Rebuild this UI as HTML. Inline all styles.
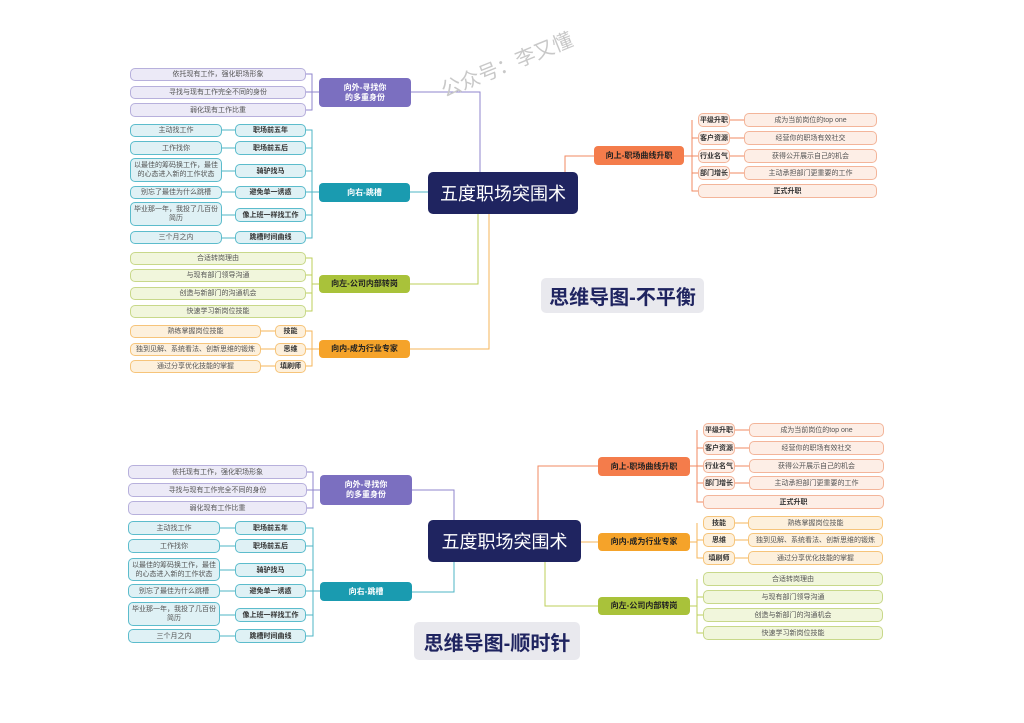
<!DOCTYPE html>
<html><head><meta charset="utf-8"><style>
body{margin:0;width:1024px;height:723px;background:#fff;position:relative;overflow:hidden;font-family:"Liberation Sans","Noto Sans CJK SC",sans-serif}
.n{position:absolute;box-sizing:border-box;display:flex;align-items:center;justify-content:center;text-align:center;border-radius:5px;font-size:7px;line-height:9px;border:1px solid;color:#555}
.p{background:#eceaf7;border-color:#b7b0dc}
.t{background:#dff1f5;border-color:#5cbccc}
.g{background:#f1f6dc;border-color:#c8d88a}
.o{background:#fdf0dc;border-color:#f6c47a}
.r{background:#fdeee6;border-color:#f3b59a}
.b{font-weight:bold;color:#333}
.B{font-weight:bold;font-size:8px;border:none;border-radius:4px;line-height:10px}
.c{position:absolute;background:#1f2460;color:#fff;font-size:18px;display:flex;align-items:center;justify-content:center;border-radius:5px}
.ti{position:absolute;background:#e9e9ee;color:#1f2460;font-weight:bold;font-size:20px;display:flex;align-items:center;justify-content:center;border-radius:5px}
svg{position:absolute;left:0;top:0}
</style></head><body>
<svg width="1024" height="723" fill="none" stroke-width="1">
<g stroke="#8f86cc"><path d="M306 74H312V110H306M306 92H319M411 92H480V172"/></g>
<g stroke="#4cb4c6"><path d="M306 130H312V238H306M306 148H312M306 171H312M306 192H319M306 215H312M222 130H235M222 148H235M222 171H235M222 192H235M222 215H235M222 238H235M410 192H428"/></g>
<g stroke="#bccf5a"><path d="M306 258H312V311H306M306 275H312M306 293H312M312 284H319M410 284H478V214"/></g>
<g stroke="#f5b45a"><path d="M306 331H312V366H306M306 349H319M261 331H275M261 349H275M261 366H275M410 349H489V214"/></g>
<g stroke="#f08a62"><path d="M565 172V156H594M684 156H692M692 120V191H698M692 138H698M692 156H698M692 173H698M730 120H744M730 138H744M730 156H744M730 173H744"/></g>
<g stroke="#8f86cc"><path d="M307 472H313V508H307M307 490H320M412 490H454V520"/></g>
<g stroke="#4cb4c6"><path d="M306 528H313V636H306M306 546H313M306 570H313M306 591H320M306 615H313M220 528H235M220 546H235M220 570H235M220 591H235M220 615H235M220 636H235M412 592H454V562"/></g>
<g stroke="#f08a62"><path d="M538 520V466H598M690 466H697M697 430V502H703M697 448H703M697 466H703M697 483H703M735 430H749M735 448H749M735 466H749M735 483H749"/></g>
<g stroke="#f5b45a"><path d="M581 542H598M690 542H697M697 523V558H703M697 540H703M735 523H748M735 540H748M735 558H748"/></g>
<g stroke="#bccf5a"><path d="M545 562V606H598M690 606H697M697 579V633H703M697 597H703M697 615H703"/></g>
</svg>
<div style="position:absolute;left:436px;top:76px;font-size:20px;color:#c8c8c8;transform:rotate(-22deg);transform-origin:left top;white-space:nowrap">公众号：李又懂</div>

<div class="c" style="left:428px;top:172px;width:150px;height:42px">五度职场突围术</div>
<div class="n B" style="left:319px;top:78px;width:92px;height:29px;background:#7b6fc0;color:#fff">向外-寻找你<br>的多重身份</div>
<div class="n p" style="left:130px;top:68px;width:176px;height:13px">依托现有工作，强化职场形象</div>
<div class="n p" style="left:130px;top:86px;width:176px;height:13px">寻找与现有工作完全不同的身份</div>
<div class="n p" style="left:130px;top:103px;width:176px;height:14px">弱化现有工作比重</div>

<div class="n B" style="left:319px;top:183px;width:91px;height:19px;background:#1a9bb0;color:#fff">向右-跳槽</div>
<div class="n t b" style="left:235px;top:124px;width:71px;height:13px">职场前五年</div>
<div class="n t" style="left:130px;top:124px;width:92px;height:13px">主动找工作</div>
<div class="n t b" style="left:235px;top:141px;width:71px;height:14px">职场前五后</div>
<div class="n t" style="left:130px;top:141px;width:92px;height:14px">工作找你</div>
<div class="n t b" style="left:235px;top:164px;width:71px;height:14px">骑驴找马</div>
<div class="n t" style="left:130px;top:158px;width:92px;height:24px">以最佳的筹码换工作，最佳的心态进入新的工作状态</div>
<div class="n t b" style="left:235px;top:186px;width:71px;height:13px">避免单一诱惑</div>
<div class="n t" style="left:130px;top:186px;width:92px;height:13px">别忘了最佳为什么跳槽</div>
<div class="n t b" style="left:235px;top:208px;width:71px;height:14px">像上班一样找工作</div>
<div class="n t" style="left:130px;top:202px;width:92px;height:24px">毕业那一年，我投了几百份简历</div>
<div class="n t b" style="left:235px;top:231px;width:71px;height:13px">跳槽时间曲线</div>
<div class="n t" style="left:130px;top:231px;width:92px;height:13px">三个月之内</div>

<div class="n B" style="left:319px;top:275px;width:91px;height:18px;background:#a9c23a;color:#222">向左-公司内部转岗</div>
<div class="n g" style="left:130px;top:252px;width:176px;height:13px">合适转岗理由</div>
<div class="n g" style="left:130px;top:269px;width:176px;height:13px">与现有部门领导沟通</div>
<div class="n g" style="left:130px;top:287px;width:176px;height:13px">创造与新部门的沟通机会</div>
<div class="n g" style="left:130px;top:305px;width:176px;height:13px">快速学习新岗位技能</div>

<div class="n B" style="left:319px;top:340px;width:91px;height:18px;background:#f5a32a;color:#222">向内-成为行业专家</div>
<div class="n o b" style="left:275px;top:325px;width:31px;height:13px">技能</div>
<div class="n o" style="left:130px;top:325px;width:131px;height:13px">熟练掌握岗位技能</div>
<div class="n o b" style="left:275px;top:343px;width:31px;height:13px">思维</div>
<div class="n o" style="left:130px;top:343px;width:131px;height:13px">独到见解、系统看法、创新思维的锻炼</div>
<div class="n o b" style="left:275px;top:360px;width:31px;height:13px">填刷师</div>
<div class="n o" style="left:130px;top:360px;width:131px;height:13px">通过分享优化技能的掌握</div>

<div class="n B" style="left:594px;top:146px;width:90px;height:19px;background:#f47c4b;color:#222">向上-职场曲线升职</div>
<div class="n r b" style="left:698px;top:113px;width:32px;height:14px">平级升职</div>
<div class="n r" style="left:744px;top:113px;width:133px;height:14px">成为当前岗位的top one</div>
<div class="n r b" style="left:698px;top:131px;width:32px;height:14px">客户资源</div>
<div class="n r" style="left:744px;top:131px;width:133px;height:14px">经营你的职场有效社交</div>
<div class="n r b" style="left:698px;top:149px;width:32px;height:14px">行业名气</div>
<div class="n r" style="left:744px;top:149px;width:133px;height:14px">获得公开展示自己的机会</div>
<div class="n r b" style="left:698px;top:166px;width:32px;height:14px">部门增长</div>
<div class="n r" style="left:744px;top:166px;width:133px;height:14px">主动承担部门更重要的工作</div>
<div class="n r b" style="left:698px;top:184px;width:179px;height:14px">正式升职</div>

<div class="ti" style="left:541px;top:278px;width:163px;height:35px">思维导图-不平衡</div>

<div class="c" style="left:428px;top:520px;width:153px;height:42px">五度职场突围术</div>
<div class="n B" style="left:320px;top:475px;width:92px;height:30px;background:#7b6fc0;color:#fff">向外-寻找你<br>的多重身份</div>
<div class="n p" style="left:128px;top:465px;width:179px;height:14px">依托现有工作，强化职场形象</div>
<div class="n p" style="left:128px;top:483px;width:179px;height:14px">寻找与现有工作完全不同的身份</div>
<div class="n p" style="left:128px;top:501px;width:179px;height:14px">弱化现有工作比重</div>

<div class="n B" style="left:320px;top:582px;width:92px;height:19px;background:#1a9bb0;color:#fff">向右-跳槽</div>
<div class="n t b" style="left:235px;top:521px;width:71px;height:14px">职场前五年</div>
<div class="n t" style="left:128px;top:521px;width:92px;height:14px">主动找工作</div>
<div class="n t b" style="left:235px;top:539px;width:71px;height:14px">职场前五后</div>
<div class="n t" style="left:128px;top:539px;width:92px;height:14px">工作找你</div>
<div class="n t b" style="left:235px;top:563px;width:71px;height:14px">骑驴找马</div>
<div class="n t" style="left:128px;top:558px;width:92px;height:23px">以最佳的筹码换工作，最佳的心态进入新的工作状态</div>
<div class="n t b" style="left:235px;top:584px;width:71px;height:14px">避免单一诱惑</div>
<div class="n t" style="left:128px;top:584px;width:92px;height:14px">别忘了最佳为什么跳槽</div>
<div class="n t b" style="left:235px;top:608px;width:71px;height:14px">像上班一样找工作</div>
<div class="n t" style="left:128px;top:602px;width:92px;height:24px">毕业那一年，我投了几百份简历</div>
<div class="n t b" style="left:235px;top:629px;width:71px;height:14px">跳槽时间曲线</div>
<div class="n t" style="left:128px;top:629px;width:92px;height:14px">三个月之内</div>

<div class="ti" style="left:414px;top:622px;width:166px;height:38px">思维导图-顺时针</div>

<div class="n B" style="left:598px;top:457px;width:92px;height:19px;background:#f47c4b;color:#222">向上-职场曲线升职</div>
<div class="n r b" style="left:703px;top:423px;width:32px;height:14px">平级升职</div>
<div class="n r" style="left:749px;top:423px;width:135px;height:14px">成为当前岗位的top one</div>
<div class="n r b" style="left:703px;top:441px;width:32px;height:14px">客户资源</div>
<div class="n r" style="left:749px;top:441px;width:135px;height:14px">经营你的职场有效社交</div>
<div class="n r b" style="left:703px;top:459px;width:32px;height:14px">行业名气</div>
<div class="n r" style="left:749px;top:459px;width:135px;height:14px">获得公开展示自己的机会</div>
<div class="n r b" style="left:703px;top:476px;width:32px;height:14px">部门增长</div>
<div class="n r" style="left:749px;top:476px;width:135px;height:14px">主动承担部门更重要的工作</div>
<div class="n r b" style="left:703px;top:495px;width:181px;height:14px">正式升职</div>

<div class="n B" style="left:598px;top:533px;width:92px;height:18px;background:#f5a32a;color:#222">向内-成为行业专家</div>
<div class="n o b" style="left:703px;top:516px;width:32px;height:14px">技能</div>
<div class="n o" style="left:748px;top:516px;width:135px;height:14px">熟练掌握岗位技能</div>
<div class="n o b" style="left:703px;top:533px;width:32px;height:14px">思维</div>
<div class="n o" style="left:748px;top:533px;width:135px;height:14px">独到见解、系统看法、创新思维的锻炼</div>
<div class="n o b" style="left:703px;top:551px;width:32px;height:14px">填刷师</div>
<div class="n o" style="left:748px;top:551px;width:135px;height:14px">通过分享优化技能的掌握</div>

<div class="n B" style="left:598px;top:597px;width:92px;height:18px;background:#a9c23a;color:#222">向左-公司内部转岗</div>
<div class="n g" style="left:703px;top:572px;width:180px;height:14px">合适转岗理由</div>
<div class="n g" style="left:703px;top:590px;width:180px;height:14px">与现有部门领导沟通</div>
<div class="n g" style="left:703px;top:608px;width:180px;height:14px">创造与新部门的沟通机会</div>
<div class="n g" style="left:703px;top:626px;width:180px;height:14px">快速学习新岗位技能</div>
</body></html>
